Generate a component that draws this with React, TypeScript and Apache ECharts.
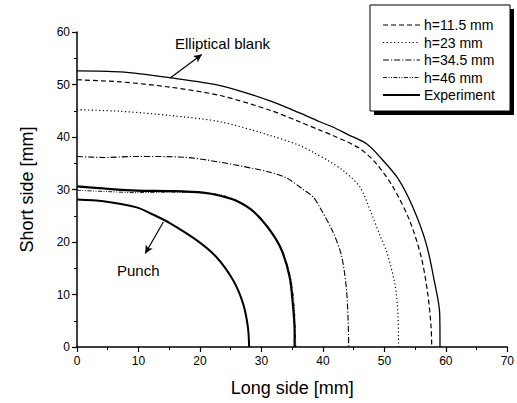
import React, { useEffect, useRef } from "react";
import * as echarts from "echarts";

// Long side [mm] / Short side [mm] contour data
const blankX = [0, 7, 15.1, 23.3, 31.4, 36.2, 39.5, 41.6, 44, 47.1, 49.5, 52.2, 54.6, 56.8, 58.1, 59, 59.05];
const blankY = [52.6, 52.4, 51.3, 49.8, 46.9, 44.6, 42.9, 41.9, 40.5, 38.7, 35.9, 32.1, 26.7, 19.7, 12.7, 6.4, 0];

const h115X = [0, 7, 15.1, 23.3, 31.4, 36.2, 39.5, 41.6, 46.0, 48.7, 51.4, 54.1, 56.0, 57.05, 57.6, 57.7];
const h115Y = [50.9, 50.5, 49.5, 47.9, 45.1, 42.9, 41.3, 40.3, 37.8, 34.9, 30.5, 24.1, 17.1, 10.2, 3.8, 0];

const h23X = [0, 7, 15.1, 23.3, 31.4, 36.2, 38.4, 41, 43.3, 46.0, 47.9, 49.5, 50.3, 51.7, 52.2, 52.3];
const h23Y = [45.2, 44.9, 44.1, 42.9, 40.3, 38.4, 37.1, 35.4, 33.6, 30.5, 25.4, 20.6, 18.4, 12.1, 6.4, 0];

const h345X = [0, 4.3, 9.7, 17.9, 23.3, 28.7, 31.4, 34.1, 36.8, 38.4, 39.5, 41.6, 43.0, 43.8, 44.1, 44.2];
const h345Y = [36.3, 36.1, 36.3, 36.1, 35.2, 34.0, 33.3, 32.2, 30.0, 28.6, 26.6, 22.0, 17.5, 11.4, 5.1, 0];

const h46X = [0, 5, 9.7, 15, 20, 23.3, 26, 28.7, 31.4, 33.3, 34.7, 35.3, 35.5, 35.6];
const h46Y = [29.85, 29.6, 29.4, 29.5, 29.4, 29.0, 27.9, 25.9, 22.4, 18.6, 13.4, 8.3, 3, 0];

const expX = [0, 4.3, 9.7, 15.1, 20.5, 23.3, 26.0, 28.7, 31.4, 33.3, 34.6, 35.1, 35.4, 35.4];
const expY = [30.6, 30.2, 29.8, 29.7, 29.4, 28.8, 27.8, 25.8, 22.2, 18.4, 13.3, 8.3, 3, 0];

const punchX = [0, 4.3, 9.7, 12.4, 15.1, 19.5, 22.7, 25.4, 27.0, 27.8, 28.0];
const punchY = [28.1, 27.75, 26.6, 25.2, 23.6, 20.3, 17.1, 12.7, 8.3, 3.8, 0];

const legendNames = ["h=11.5 mm", "h=23 mm", "h=34.5 mm", "h=46 mm", "Experiment"];
const xTicks = [0, 70, 10];
const yTicks = [0, 60, 10];

const FONT = "Liberation Sans, Arial, sans-serif";

const dashes: Record<string, number[] | "solid"> = {
  "h=11.5 mm": [5, 3],
  "h=23 mm": [1.2, 2.5],
  "h=34.5 mm": [6, 2, 1.2, 2],
  "h=46 mm": [4, 1.5, 1, 1.5, 1, 1.5],
  Experiment: "solid",
};
const widths: Record<string, number> = {
  "h=11.5 mm": 1.2,
  "h=23 mm": 1.2,
  "h=34.5 mm": 1.1,
  "h=46 mm": 0.9,
  Experiment: 2.2,
};

function pairs(xs: number[], ys: number[]) {
  return xs.map((x, i) => [x, ys[i]]);
}

export default function App() {
  const ref = useRef<HTMLDivElement>(null);
  useEffect(() => {
    const chart = echarts.init(ref.current!, null, { renderer: "svg" });
    const line = (name: string, data: number[][], width: number, type: any, z = 2) => ({
      name,
      type: "line",
      data,
      showSymbol: false,
      symbol: "none",
      smooth: 0.3,
      z,
      lineStyle: { color: "#000", width, type },
      silent: true,
    });
    const legendGraphics: any[] = [
      { type: "rect", shape: { x: 374, y: 9, width: 140, height: 106 }, style: { fill: "#000" } },
      { type: "rect", shape: { x: 370, y: 5, width: 140, height: 106 }, style: { fill: "#fff", stroke: "#000", lineWidth: 1 } },
    ];
    legendNames.forEach((n, i) => {
      const cy = 25 + i * 17.5;
      const d = dashes[n];
      legendGraphics.push({
        type: "line",
        shape: { x1: 383, y1: cy, x2: 420, y2: cy },
        style: { stroke: "#000", lineWidth: widths[n], lineDash: d === "solid" ? null : d },
      });
      legendGraphics.push({
        type: "text",
        x: 424,
        y: cy,
        style: { text: n, font: `14px ${FONT}`, fill: "#000", verticalAlign: "middle", align: "left" },
      });
    });
    chart.setOption({
      animation: false,
      backgroundColor: "#fff",
      textStyle: { fontFamily: FONT },
      grid: { left: 77, right: 9, top: 32, bottom: 56, containLabel: false },
      xAxis: {
        type: "value",
        min: xTicks[0],
        max: xTicks[1],
        interval: xTicks[2],
        name: "Long side [mm]",
        nameLocation: "middle",
        nameGap: 32,
        nameTextStyle: { fontSize: 18, color: "#000", fontFamily: FONT },
        axisLine: { lineStyle: { color: "#000", width: 1.5 } },
        axisTick: { show: true, inside: false, length: 5, lineStyle: { color: "#000", width: 1.2 } },
        minorTick: { show: true, splitNumber: 2, length: 3, lineStyle: { color: "#000", width: 1 } },
        splitLine: { show: false },
        axisLabel: { fontSize: 12, color: "#000", margin: 8, fontFamily: FONT },
      },
      yAxis: {
        type: "value",
        min: yTicks[0],
        max: yTicks[1],
        interval: yTicks[2],
        name: "Short side [mm]",
        nameLocation: "middle",
        nameGap: 41,
        nameTextStyle: { fontSize: 18, color: "#000", fontFamily: FONT },
        axisLine: { show: true, lineStyle: { color: "#000", width: 1.5 } },
        axisTick: { show: true, inside: false, length: 5, lineStyle: { color: "#000", width: 1.2 } },
        minorTick: { show: true, splitNumber: 2, length: 3, lineStyle: { color: "#000", width: 1 } },
        splitLine: { show: false },
        axisLabel: { fontSize: 12, color: "#000", margin: 7, fontFamily: FONT },
      },
      series: [
        {
          ...line("Elliptical blank", pairs(blankX, blankY), 1.3, "solid"),
          markLine: {
            silent: true,
            symbol: ["none", "arrow"],
            symbolSize: [6, 8],
            label: { show: false },
            lineStyle: { color: "#000", width: 1.2, type: "solid" },
            data: [[{ coord: [15.1, 51.2] }, { coord: [20.3, 55.7] }]],
          },
        },
        line("h=11.5 mm", pairs(h115X, h115Y), widths["h=11.5 mm"], dashes["h=11.5 mm"]),
        line("h=23 mm", pairs(h23X, h23Y), widths["h=23 mm"], dashes["h=23 mm"]),
        line("h=34.5 mm", pairs(h345X, h345Y), widths["h=34.5 mm"], dashes["h=34.5 mm"]),
        line("h=46 mm", pairs(h46X, h46Y), widths["h=46 mm"], dashes["h=46 mm"]),
        line("Experiment", pairs(expX, expY), widths.Experiment, "solid", 3),
        {
          ...line("Punch", pairs(punchX, punchY), 2, "solid", 3),
          markLine: {
            silent: true,
            symbol: ["none", "arrow"],
            symbolSize: [6, 8],
            label: { show: false },
            lineStyle: { color: "#000", width: 1.2, type: "solid" },
            data: [[{ coord: [14.05, 23.8] }, { coord: [11.1, 17.8] }]],
          },
        },
      ],
      graphic: [
        {
          type: "text",
          x: 175,
          y: 43,
          style: { text: "Elliptical blank", font: `15px ${FONT}`, fill: "#000", verticalAlign: "middle" },
        },
        {
          type: "text",
          x: 117,
          y: 270,
          style: { text: "Punch", font: `15px ${FONT}`, fill: "#000", verticalAlign: "middle" },
        },
        ...legendGraphics,
      ],
    });
    return () => chart.dispose();
  }, []);
  return <div ref={ref} style={{ position: "fixed", left: 0, top: 0, width: 517, height: 403 }} />;
}
